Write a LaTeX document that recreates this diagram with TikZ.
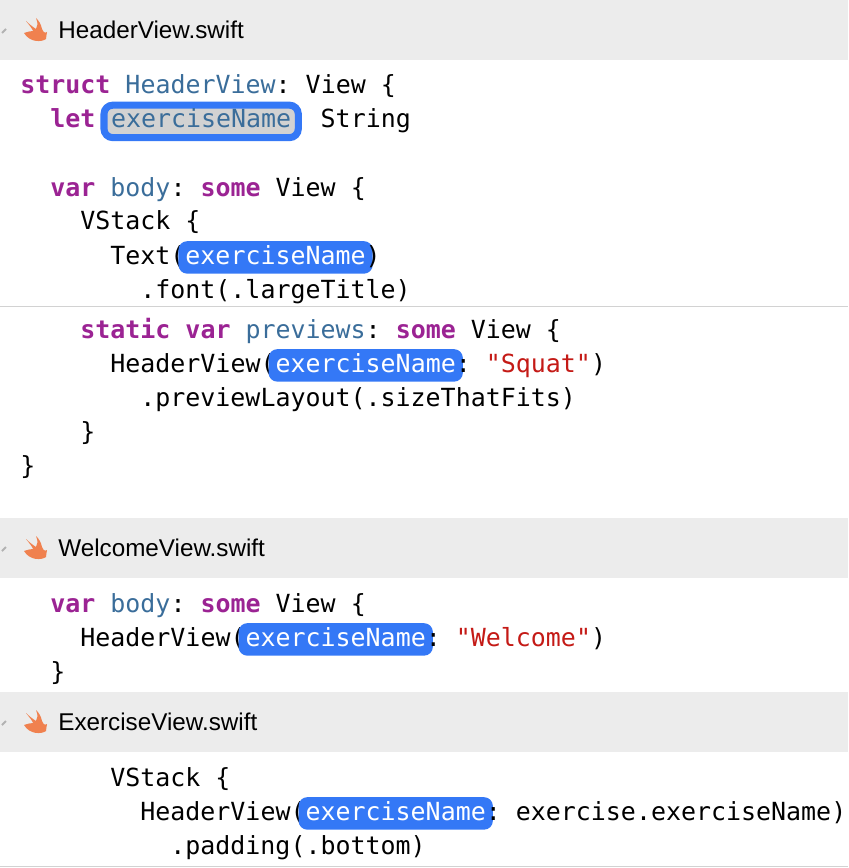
\documentclass[tikz,border=0pt]{standalone}
\usepackage{fontspec}
\setmainfont{Liberation Sans}
\setmonofont{DejaVu Sans Mono}
\definecolor{barGray}{HTML}{ECECEC}
\definecolor{kwPurple}{HTML}{9B2393}
\definecolor{typeBlue}{HTML}{3A6D9A}
\definecolor{strRed}{HTML}{C41A16}
\definecolor{hlBlue}{HTML}{3478F6}
\definecolor{swiftOrange}{HTML}{F0814F}
\newcommand\kw[1]{\textcolor{kwPurple}{#1}}
\newcommand\ty[1]{\textcolor{typeBlue}{#1}}
\newcommand\st[1]{\textcolor{strRed}{#1}}
\newcommand\hl[1]{\hspace{-4pt}\tikz[baseline=(h.base)]\node[hlbox](h){#1};\hspace{-4pt}}
\tikzset{
  codeline/.style={anchor=base west,inner sep=0pt,font=\ttfamily\fontsize{14.2}{16}\selectfont},
  filename/.style={anchor=west,inner sep=0pt,font=\fontsize{13.8}{17}\selectfont},
  hlbox/.style={fill=hlBlue,text=white,rounded corners=5pt,inner xsep=4pt,inner ysep=2.5pt,
    text height=10.5pt,text depth=3pt,outer sep=0pt},
  bar/.style={fill=barGray},
}
\newcommand\swiftbar[2]{%
  \fill[bar] (0,#1-30) rectangle (848,#1+30);
  \draw[gray!60,line width=1.2pt] (2,#1+3) -- (6,#1-1);
  \fill[swiftOrange] (24,#1+3) .. controls (30,#1+13) and (42,#1+12) .. (46,#1+9)
     .. controls (47,#1+6) and (46,#1+4) .. (47,#1+2)
     .. controls (44,#1+4) and (43,#1+1) .. (42,#1-1)
     .. controls (41,#1-6) and (39,#1-9) .. (36,#1-12)
     .. controls (38,#1-7) and (38,#1-4) .. (36,#1-1)
     .. controls (33,#1-3) and (29,#1-6) .. (26,#1-9)
     .. controls (29,#1-5) and (32,#1-2) .. (33,#1+1)
     .. controls (30,#1+1) and (27,#1+2) .. (24,#1+3) -- cycle;
  \node[filename] at (58,#1) {#2};}
\begin{document}
\begin{tikzpicture}[x=0.02cm,y=-0.02cm]
\useasboundingbox (0,0) rectangle (848,868);
% HeaderView.swift
\swiftbar{30}{HeaderView.swift}
\node[codeline] (l1) at (20,94) {\kw{\textbf{struct}} \ty{HeaderView}: View \{};
\node[codeline] (l2) at (50,128) {\kw{\textbf{let}} \phantom{exerciseName}: String};
\node[hlbox,fill=gray!35,draw=hlBlue,line width=4pt,text=typeBlue,font=\ttfamily\fontsize{14.2}{16}\selectfont,inner xsep=4pt,anchor=base west]
  (h0) at (104,128) {exerciseName};
\node[codeline] (l3) at (50,196) {\kw{\textbf{var}} \ty{body}: \kw{\textbf{some}} View \{};
\node[codeline] (l4) at (80,230) {VStack \{};
\node[codeline] (l5) at (110,264) {Text(\hl{exerciseName})};
\node[codeline] (l6) at (140,298) {.font(.largeTitle)};
\draw[gray!35] (0,306) -- (848,306);
\node[codeline] (l7) at (80,338) {\kw{\textbf{static}} \kw{\textbf{var}} \ty{previews}: \kw{\textbf{some}} View \{};
\node[codeline] (l8) at (110,372) {HeaderView(\hl{exerciseName}: \st{"Squat"})};
\node[codeline] (l9) at (140,406) {.previewLayout(.sizeThatFits)};
\node[codeline] (l10) at (80,440) {\}};
\node[codeline] (l11) at (20,474) {\}};
% WelcomeView.swift
\swiftbar{548}{WelcomeView.swift}
\node[codeline] (w1) at (50,612) {\kw{\textbf{var}} \ty{body}: \kw{\textbf{some}} View \{};
\node[codeline] (w2) at (80,646) {HeaderView(\hl{exerciseName}: \st{"Welcome"})};
\node[codeline] (w3) at (50,680) {\}};
% ExerciseView.swift
\swiftbar{722}{ExerciseView.swift}
\node[codeline] (e1) at (110,786) {VStack \{};
\node[codeline] (e2) at (140,820) {HeaderView(\hl{exerciseName}: exercise.exerciseName)};
\node[codeline] (e3) at (170,854) {.padding(.bottom)};
\draw[gray!35] (0,866) -- (848,866);
\end{tikzpicture}
\end{document}
